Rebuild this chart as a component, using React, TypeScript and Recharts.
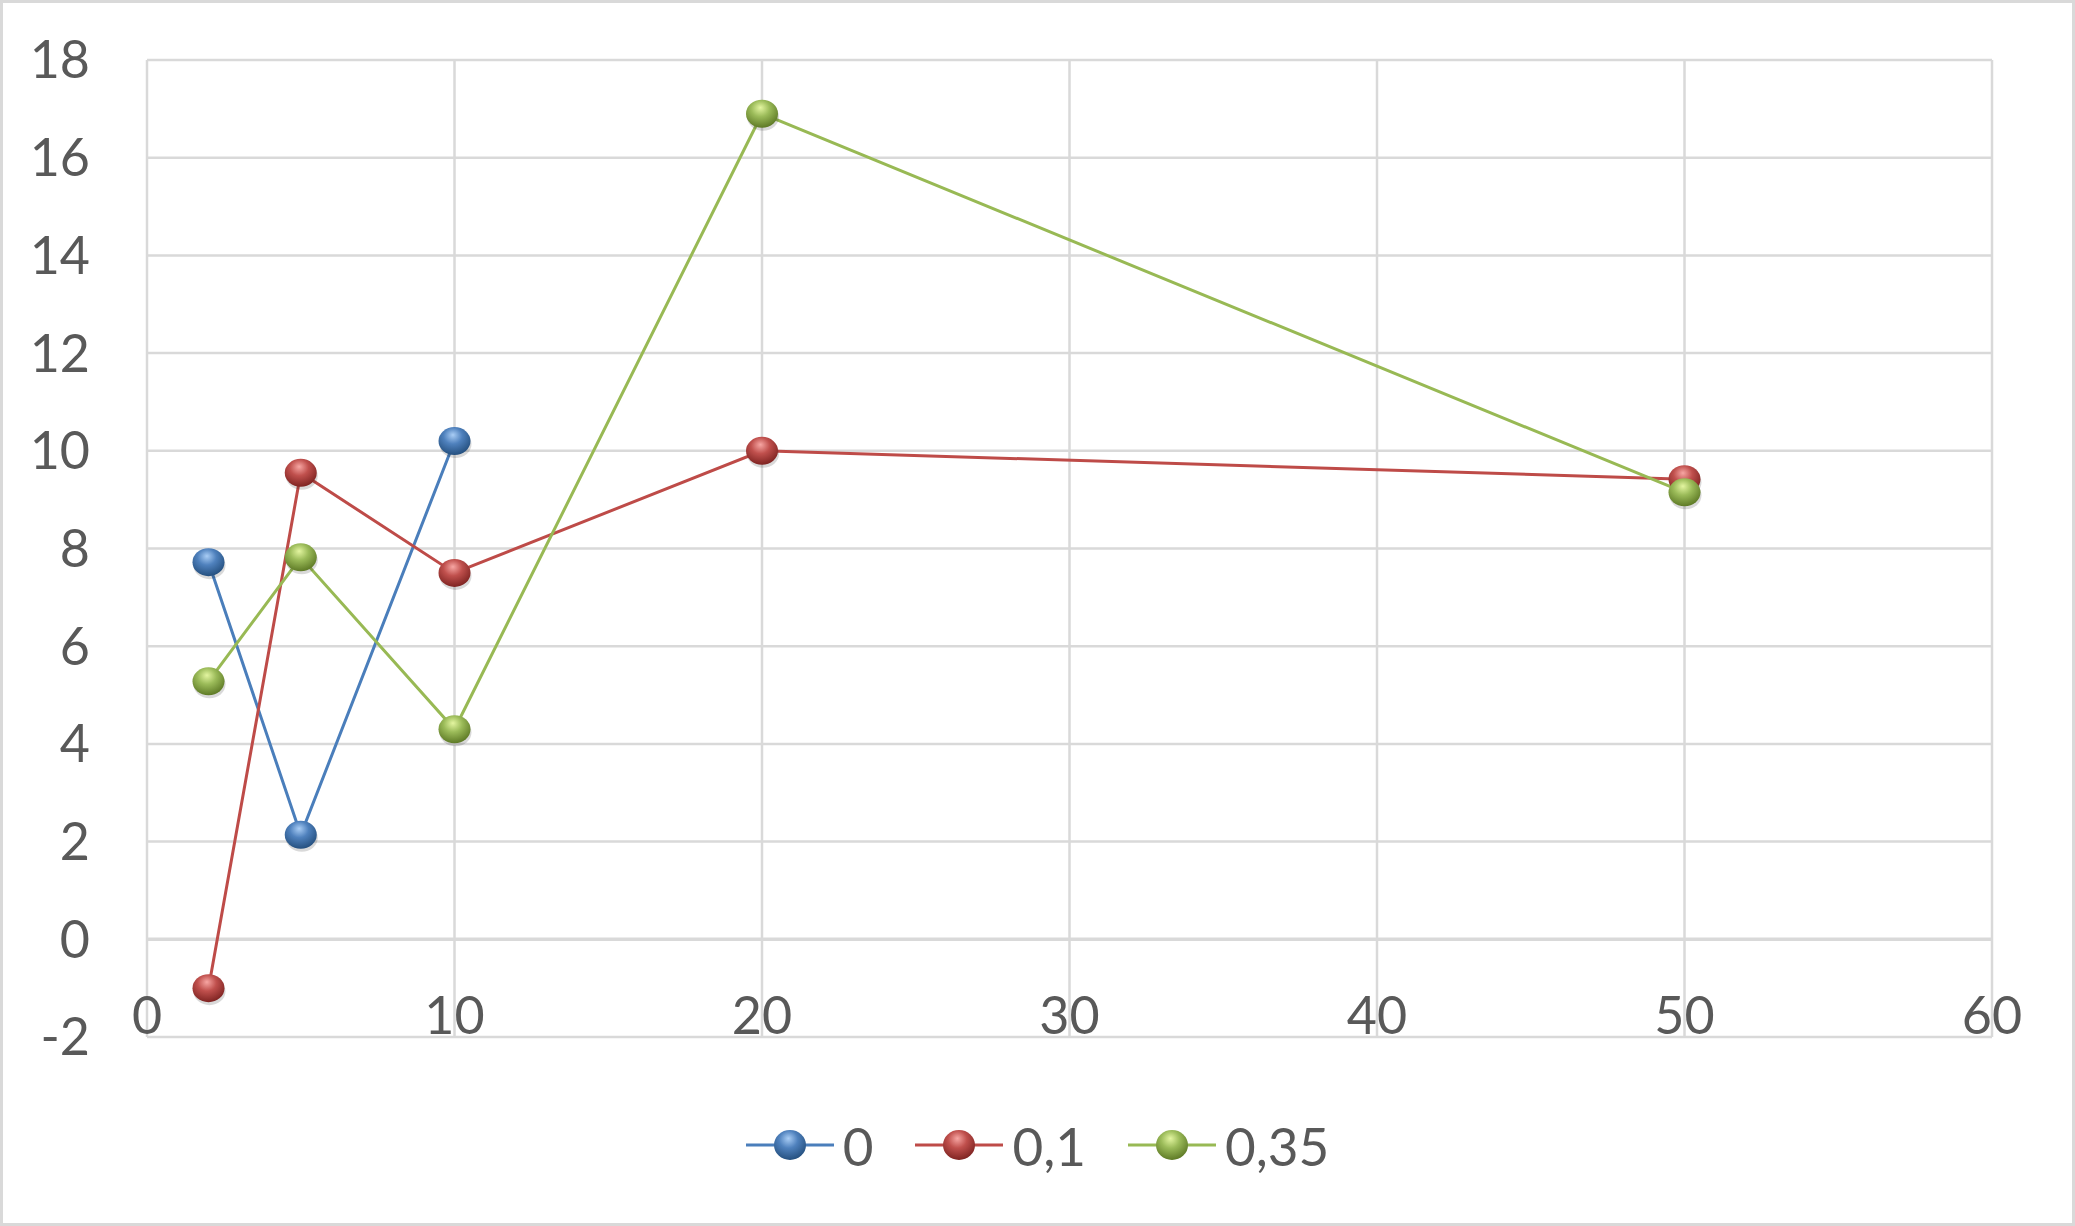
import React from 'react';
import { LineChart, Line, XAxis, YAxis, CartesianGrid, ReferenceLine, Legend } from 'recharts';

// x positions shared by all series
const xValues = [2, 5, 10, 20, 50];
const seriesNames = ['0', '0,1', '0,35'];
const values0 = [7.72, 2.14, 10.2];
const values01 = [-1.0, 9.55, 7.5, 10.0, 9.42];
const values035 = [5.28, 7.82, 4.3, 16.9, 9.15];
const xTicks = [0, 10, 20, 30, 40, 50, 60];
const yTicks = [-2, 0, 2, 4, 6, 8, 10, 12, 14, 16, 18];

const FONT = 'Lato, "Open Sans", sans-serif';
const TEXT = '#595959';
const GRID = '#d9d9d9';

const colors = [
  { id: 'sphBlue', line: '#4a7ebb', light: '#a9cdf5', mid: '#4f81bd', dark: '#25507f' },
  { id: 'sphRed', line: '#be4b48', light: '#f7a6a3', mid: '#c0504d', dark: '#7f2422' },
  { id: 'sphGreen', line: '#98b954', light: '#e3f5a0', mid: '#9bbb59', dark: '#5e7a26' },
];

const toPoints = (vals: number[]) => vals.map((v, i) => ({ x: xValues[i], y: v }));
const seriesData = [toPoints(values0), toPoints(values01), toPoints(values035)];

function Sphere({ cx, cy, id }: { cx: number; cy: number; id: string }) {
  if (cx == null || cy == null) return null;
  return (
    <g>
      <ellipse cx={cx + 1} cy={cy + 3} rx={16} ry={14} fill="rgba(0,0,0,0.15)" />
      <ellipse cx={cx} cy={cy} rx={16} ry={14} fill={`url(#${id})`} />
    </g>
  );
}

function XTick(props: any) {
  const { x, y, payload } = props;
  return (
    <text x={x} y={y} dy={-3} textAnchor="middle" fill={TEXT} fontSize={52} fontFamily={FONT}>
      {payload.value}
    </text>
  );
}

function GradientDefs() {
  return (
    <defs>
      {colors.map((c) => (
        <radialGradient key={c.id} id={c.id} cx="45%" cy="35%" r="65%" fx="45%" fy="28%">
          <stop offset="0%" stopColor={c.light} />
          <stop offset="45%" stopColor={c.mid} />
          <stop offset="100%" stopColor={c.dark} />
        </radialGradient>
      ))}
    </defs>
  );
}

function LegendContent() {
  return (
    <div style={{ height: 80, display: 'flex', justifyContent: 'center', alignItems: 'center', fontFamily: FONT, fontSize: 53, color: TEXT }}>
      {seriesNames.map((name, i) => (
        <div key={name} style={{ display: 'flex', alignItems: 'center', marginLeft: i === 0 ? 0 : 42 }}>
          <svg width={88} height={40}>
            <line x1={0} y1={20} x2={88} y2={20} stroke={colors[i].line} strokeWidth={3} />
            <ellipse cx={44} cy={20} rx={16} ry={15} fill={`url(#${colors[i].id})`} />
          </svg>
          <span style={{ marginLeft: 9 }}>{name}</span>
        </div>
      ))}
    </div>
  );
}

export default function App() {
  return (
    <div style={{ position: 'absolute', left: 0, top: 0, width: 2075, height: 1226, background: '#fff', border: `3px solid ${GRID}`, boxSizing: 'border-box' }}>
      <svg width={0} height={0} style={{ position: 'absolute' }}>
        <GradientDefs />
      </svg>
      <LineChart width={2069} height={1220} margin={{ top: 57, right: 80, left: 0, bottom: 38 }}>
        <CartesianGrid stroke={GRID} strokeWidth={2.5} />
        <XAxis type="number" dataKey="x" domain={[0, 60]} ticks={xTicks} axisLine={false} tickLine={false}
          tickSize={0} tickMargin={0} height={68} tick={<XTick />} interval={0} />
        <YAxis type="number" domain={[-2, 18]} ticks={yTicks} axisLine={false} tickLine={false} tickSize={0}
          tickMargin={57} width={144} interval={0} tick={{ fill: TEXT, fontSize: 52, fontFamily: FONT }} />
        <ReferenceLine y={0} stroke={GRID} strokeWidth={3.5} />
        {seriesData.map((d, i) => (
          <Line key={seriesNames[i]} data={d} dataKey="y" name={seriesNames[i]} type="linear"
            stroke={colors[i].line} strokeWidth={3} isAnimationActive={false}
            dot={(p: any) => <Sphere key={`${i}-${p.index}`} cx={p.cx} cy={p.cy} id={colors[i].id} />}
            activeDot={false} />
        ))}
        <Legend verticalAlign="bottom" align="center" wrapperStyle={{ left: 0, width: 2069 }} content={<LegendContent />} />
      </LineChart>
    </div>
  );
}
